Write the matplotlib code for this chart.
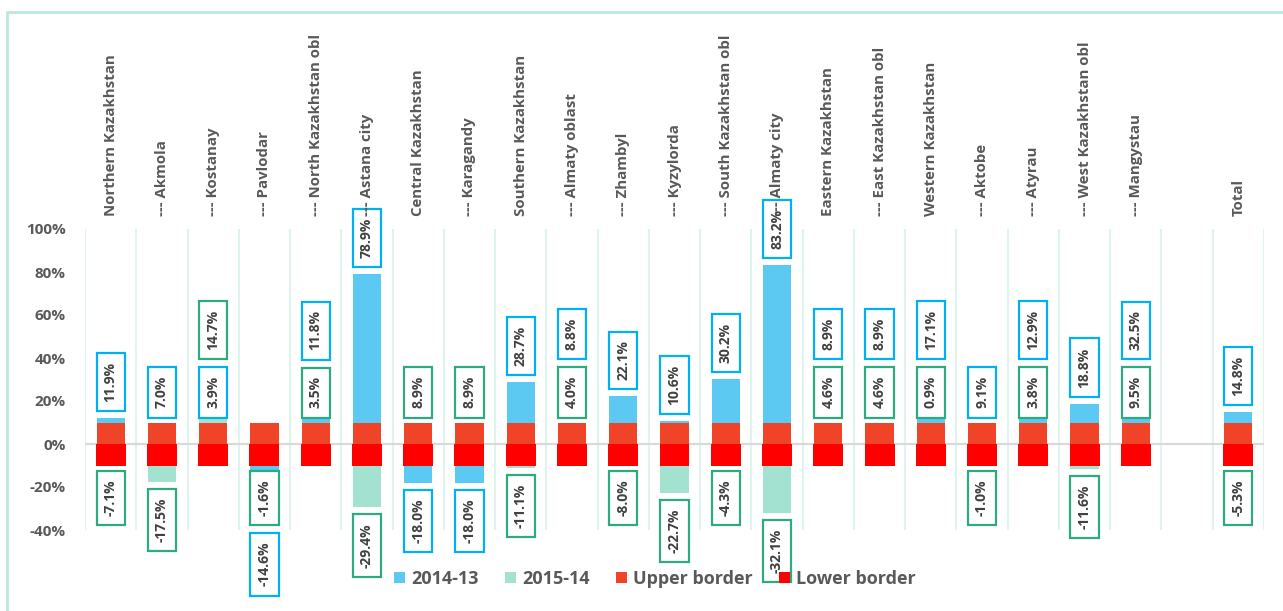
import numpy as np
import matplotlib
matplotlib.use('Agg')
import matplotlib.pyplot as plt
import matplotlib.patches as mpatches
from matplotlib.lines import Line2D

plt.rcParams['font.family'] = ['Open Sans', 'DejaVu Sans']

# data
categories = ['Northern Kazakhstan', '--- Akmola', '--- Kostanay', '--- Pavlodar',
              '--- North Kazakhstan obl', '--- Astana city', 'Central Kazakhstan',
              '--- Karagandy', 'Southern Kazakhstan', '--- Almaty oblast', '--- Zhambyl',
              '--- Kyzylorda', '--- South Kazakhstan obl', '--- Almaty city',
              'Eastern Kazakhstan', '--- East Kazakhstan obl', 'Western Kazakhstan',
              '--- Aktobe', '--- Atyrau', '--- West Kazakhstan obl', '--- Mangystau',
              '', 'Total']
growth_14_13 = [11.9, 7.0, 3.9, -14.6, 11.8, 78.9, -18.0, -18.0, 28.7, 8.8, 22.1,
                10.6, 30.2, 83.2, 8.9, 8.9, 17.1, 9.1, 12.9, 18.8, 32.5, np.nan, 14.8]
growth_15_14 = [-7.1, -17.5, 14.7, -1.6, 3.5, -29.4, 8.9, 8.9, -11.1, 4.0, -8.0,
                -22.7, -4.3, -32.1, 4.6, 4.6, 0.9, -1.0, 3.8, -11.6, 9.5, np.nan, -5.3]
upper_border = [10] * 21 + [np.nan, 10]
lower_border = [-10] * 21 + [np.nan, -10]

W, H = 1283, 611
fig = plt.figure(figsize=(W / 100, H / 100), dpi=100)
ax = fig.add_axes([85 / W, (H - 530) / H, (1264 - 85) / W, (530 - 229) / H])

x = np.arange(len(categories))
b1 = ax.bar(x, growth_14_13, width=0.55, color='#5BC9F1', zorder=2, label='2014-13')
b2 = ax.bar(x, growth_15_14, width=0.55, color='#A3E2D0', zorder=2.1, label='2015-14')
b3 = ax.bar(x, upper_border, width=0.55, color='#F04428', zorder=3, label='Upper border')
b4 = ax.bar(x, lower_border, width=0.585, color='#FF0000', zorder=3, label='Lower border')

ax.set_xlim(-0.5, len(categories) - 0.5)
ax.set_ylim(-40, 100)
for b in np.arange(-0.5, len(categories)):
    ax.axvline(b, color='#DFF4EE', lw=1.5, zorder=0)
ax.axhline(0, color='#D9D9D9', lw=1.5, zorder=1)
for s in ax.spines.values():
    s.set_visible(False)

yt = [-40, -20, 0, 20, 40, 60, 80, 100]
ax.set_yticks(yt)
ax.set_yticklabels([str(v) + '%' for v in yt], fontsize=11, fontweight='bold', color='#595959')
ax.tick_params(axis='y', length=0, pad=14)

ax.set_xticks(x)
ax.set_xticklabels(categories, rotation=90, fontsize=10.8, fontweight='bold', color='#595959')
ax.tick_params(axis='x', top=True, labeltop=True, bottom=False, labelbottom=False, length=0, pad=9)
ax.xaxis.set_zorder(7)

# data labels in boxes, stacked outwards from the bars
fig.canvas.draw()
r = fig.canvas.get_renderer()
def to_px(v):
    return ax.transData.transform((0, v))[1]
def to_data(p):
    return ax.transData.inverted().transform((0, p))[1]
box_w = ax.transData.transform((0.55, 0))[0] - ax.transData.transform((0, 0))[0]

for i in range(len(categories)):
    for side in (1, -1):
        items = []
        for v, ec in ((growth_14_13[i], '#00B0F0'), (growth_15_14[i], '#2EAA80')):
            if not np.isnan(v) and np.sign(v) == side:
                items.append((abs(v), v, ec))
        items.sort()
        prev_outer = None
        for av, v, ec in items:
            t = ax.text(i, 0, '%.1f%%' % v, rotation=90, ha='center', va='center',
                        fontsize=10, fontweight='bold', color='#404040', zorder=6, clip_on=False)
            ext = t.get_window_extent(r)
            blen = ext.height + 18
            gap = 7 if av > 10 else 5
            start = to_px(side * max(av, 10)) + side * gap
            if prev_outer is not None:
                start = side * max(side * start, side * (prev_outer + side * 8))
            outer = start + side * blen
            t.set_position((i, to_data((start + outer) / 2)))
            xc = ax.transData.transform((i, 0))[0]
            rect = mpatches.Rectangle(((xc - box_w / 2) / W, min(start, outer) / H), box_w / W, blen / H,
                                      transform=fig.transFigure, facecolor='white', edgecolor=ec,
                                      lw=1.6, zorder=5, clip_on=False)
            ax.add_patch(rect)
            prev_outer = outer

# outer frame
fig.add_artist(Line2D([7 / W, 7 / W, 1.0], [0, (H - 12) / H, (H - 12) / H],
                      transform=fig.transFigure, color='#B9E8DE', lw=2))

fig.legend(handles=[b1, b2, b3, b4], labels=['2014-13', '2015-14', 'Upper border', 'Lower border'],
           loc='center', bbox_to_anchor=(655 / W, (H - 579) / H), ncol=4, frameon=False,
           prop={'weight': 'bold', 'size': 13}, labelcolor='#595959',
           handlelength=0.6, handleheight=0.6, handletextpad=0.35, columnspacing=1.45)

fig.savefig('out.png', dpi=100)
